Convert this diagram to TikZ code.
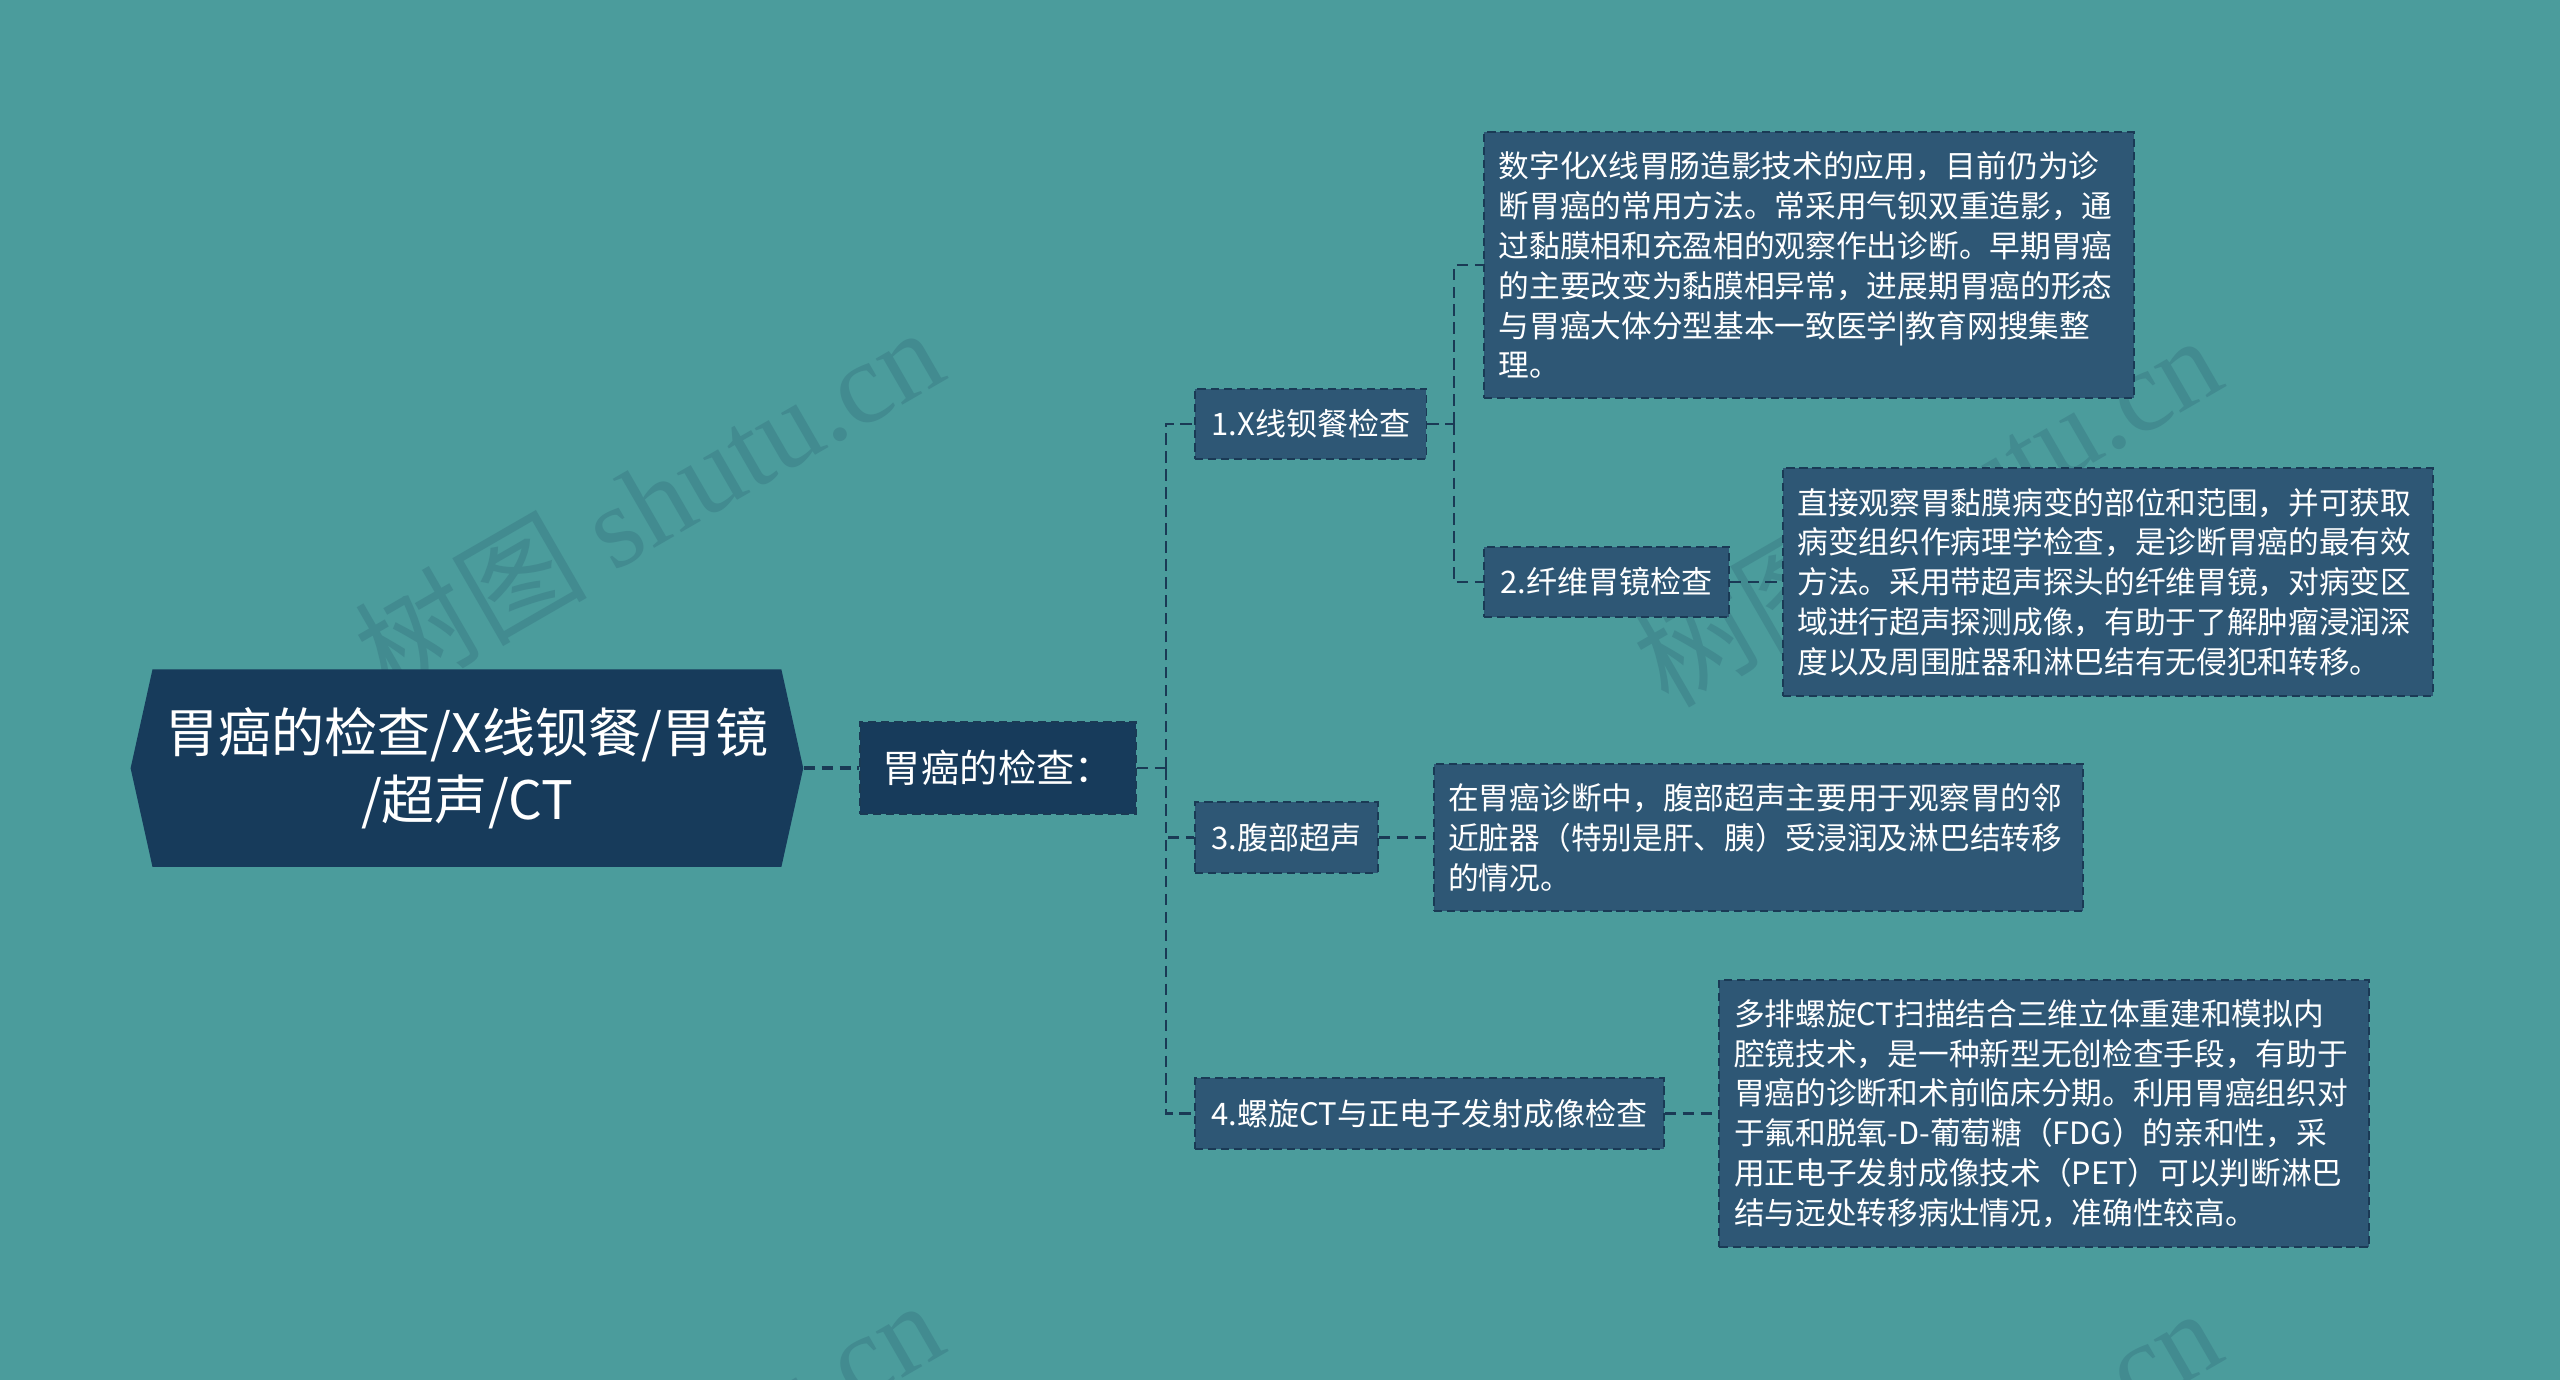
\documentclass[tikz,border=0pt]{standalone}
\usepackage{fontspec}
\setmainfont{Noto Sans CJK SC}
\newfontfamily\wmfont{Liberation Serif}
\usepackage{tikz}
\usetikzlibrary{positioning}
\usetikzlibrary{shapes.symbols}

\definecolor{bgteal}{HTML}{4B9C9C}
\definecolor{rootblue}{HTML}{173B5B}
\definecolor{itemblue}{HTML}{2E5775}
\definecolor{edgeblue}{HTML}{1A3A55}
\definecolor{wmteal}{HTML}{428B90}

\begin{document}
\begin{tikzpicture}[
  x=1pt, y=1pt,
  node distance=35pt,
  rootnode/.style={signal, signal to=west and east, signal pointer angle=155,
    fill=rootblue, text=white, minimum width=412pt, minimum height=121pt,
    align=center, inner sep=0pt, font=\fontsize{32.5pt}{41pt}\selectfont},
  subnode/.style={draw=edgeblue, dash pattern=on 5pt off 3pt, line width=1.2pt,
    fill=rootblue, text=white, minimum height=56pt, inner xsep=14pt,
    font=\fontsize{23.5pt}{28pt}\selectfont},
  itemnode/.style={draw=edgeblue, dash pattern=on 5pt off 3pt, line width=1.2pt,
    fill=itemblue, text=white, minimum height=43pt, inner xsep=10pt,
    font=\fontsize{19pt}{23pt}\selectfont},
  descnode/.style={itemnode, text width=380pt, align=left, inner xsep=9pt,
    inner ysep=12pt, font=\fontsize{18.8pt}{24.4pt}\selectfont},
  link/.style={draw=edgeblue, dash pattern=on 7pt off 4pt, line width=1.3pt},
  wmark/.style={text=wmteal, rotate=30, font=\fontsize{71pt}{71pt}\selectfont}
]

\useasboundingbox (0,0) rectangle (1568,-845);
\fill[bgteal] (0,0) rectangle (1568,-845);

% watermarks
\node[wmark] (wm1) at (397,-307) {树图 {\wmfont shutu.cn}};
\node[wmark] (wm2) at (1180,-312) {树图 {\wmfont shutu.cn}};
\node[wmark] (wm3) at (397,-903) {树图 {\wmfont shutu.cn}};
\node[wmark] (wm4) at (1180,-908) {树图 {\wmfont shutu.cn}};

\node[rootnode] (root) at (286,-470.5) {胃癌的检查/X线钡餐/胃镜\\/超声/CT};
\node[subnode,right=34pt of root] (sub) {胃癌的检查：};

\node[itemnode,right=of sub,yshift=211pt] (x1) {1.X线钡餐检查};
\node[itemnode,right=of sub,yshift=-42.5pt] (x3) {3.腹部超声};
\node[itemnode,right=of sub,yshift=-211.5pt] (x4) {4.螺旋CT与正电子发射成像检查};

\node[descnode,right=34pt of x1,yshift=97pt] (d1) {数字化X线胃肠造影技术的应用，目前仍为诊\\
断胃癌的常用方法。常采用气钡双重造影，通\\
过黏膜相和充盈相的观察作出诊断。早期胃癌\\
的主要改变为黏膜相异常，进展期胃癌的形态\\
与胃癌大体分型基本一致医学|教育网搜集整\\
理。};
\node[itemnode,right=34pt of x1,yshift=-97pt] (x2) {2.纤维胃镜检查};

\node[descnode,right=32pt of x2] (d2) {直接观察胃黏膜病变的部位和范围，并可获取\\
病变组织作病理学检查，是诊断胃癌的最有效\\
方法。采用带超声探头的纤维胃镜，对病变区\\
域进行超声探测成像，有助于了解肿瘤浸润深\\
度以及周围脏器和淋巴结有无侵犯和转移。};
\node[descnode,right=33pt of x3] (d3) {在胃癌诊断中，腹部超声主要用于观察胃的邻\\
近脏器（特别是肝、胰）受浸润及淋巴结转移\\
的情况。};
\node[descnode,right=33pt of x4] (d4) {多排螺旋CT扫描结合三维立体重建和模拟内\\
腔镜技术，是一种新型无创检查手段，有助于\\
胃癌的诊断和术前临床分期。利用胃癌组织对\\
于氟和脱氧-D-葡萄糖（FDG）的亲和性，采\\
用正电子发射成像技术（PET）可以判断淋巴\\
结与远处转移病灶情况，准确性较高。};

\draw[link,line width=2.4pt] (root.east) -- (sub.west);
\draw[link] (sub.east) -- ++(17.5,0) coordinate (b0);
\draw[link] (b0) |- (x1.west);
\draw[link] (b0) |- (x3.west);
\draw[link] (b0) |- (x4.west);

\draw[link] (x1.east) -- ++(16,0) coordinate (b1);
\draw[link] (b1) |- (d1.west);
\draw[link] (b1) |- (x2.west);

\draw[link] (x2) -- (d2);
\draw[link] (x3) -- (d3);
\draw[link] (x4) -- (d4);

\end{tikzpicture}
\end{document}
